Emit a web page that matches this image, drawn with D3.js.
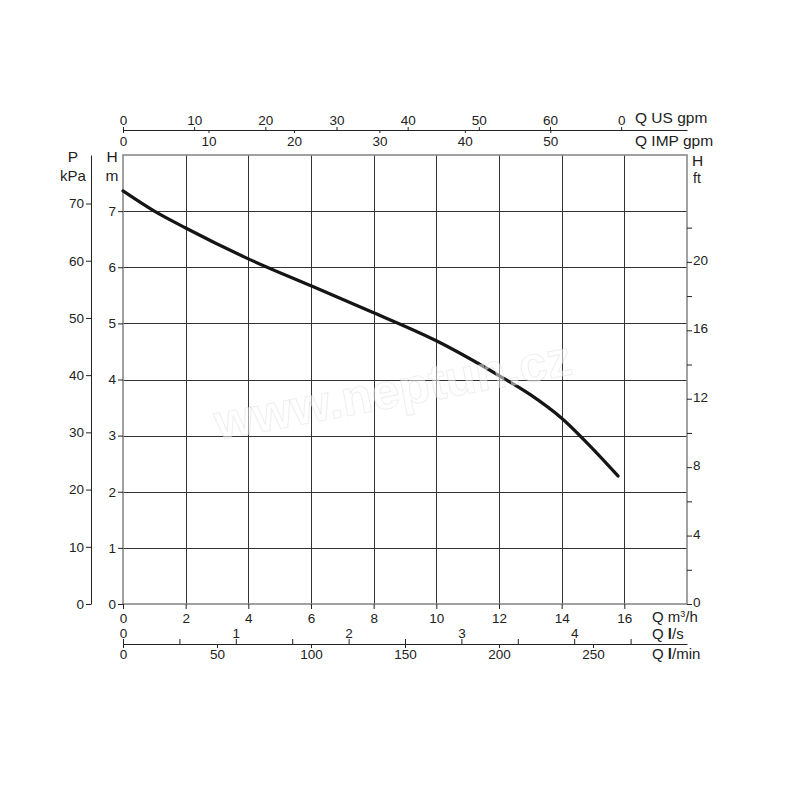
<!DOCTYPE html>
<html>
<head>
<meta charset="utf-8">
<script src="https://cdn.jsdelivr.net/npm/d3@7"></script>
<style>
  body { margin: 0; background: #fff; }
  svg { display: block; font-family: "Liberation Sans", Arial, sans-serif; }
  .axis text { font-size: 13.5px; fill: #222; }
  .axis path, .axis line { stroke: #222; }
</style>
</head>
<body>
<svg id="chart" width="800" height="800"></svg>
<script>
// ---- data (pump curve: flow in m3/h, head in m) ----
const flowM3h = [0, 1, 2, 4, 6, 8, 10, 12, 13, 14, 15, 15.8];
const headM   = [7.36, 7.0, 6.70, 6.15, 5.67, 5.19, 4.69, 4.07, 3.73, 3.31, 2.76, 2.28];

// ---- tick values / labels ----
const m3hTicks    = [0, 2, 4, 6, 8, 10, 12, 14, 16];
const hmTicks     = [0, 1, 2, 3, 4, 5, 6, 7];
const kPaTicks    = [0, 10, 20, 30, 40, 50, 60, 70];
const ftTicks     = [0, 2, 4, 6, 8, 10, 12, 14, 16, 18, 20, 22];
const ftLabelled  = [0, 4, 8, 12, 16, 20];
const usGpmTicks  = [0, 10, 20, 30, 40, 50, 60, 70];
const usGpmLabels = ["0", "10", "20", "30", "40", "50", "60", "0"];
const impGpmTicks = [0, 10, 20, 30, 40, 50];
const lsTicks     = [0, 0.5, 1, 1.5, 2, 2.5, 3, 3.5, 4, 4.5];
const lsLabelled  = [0, 1, 2, 3, 4];
const lminTicks   = [0, 50, 100, 150, 200, 250];

// unit conversions relative to m3/h and m
const US_GPM_PER_M3H = 4.4029;
const IMP_GPM_PER_M3H = 3.6662;
const KPA_PER_M = 9.81;
const FT_PER_M = 1 / 0.3048;

const svg = d3.select("#chart");
const L = 123, R = 687, T = 155, B = 604;
const xMax = 18, yMax = 8;

const x = d3.scaleLinear().domain([0, xMax]).range([L, R]);
const y = d3.scaleLinear().domain([0, yMax]).range([B, T]);

// ---- grid ----
const grid = svg.append("g");
grid.selectAll("line.v").data(m3hTicks.filter(d => d > 0))
  .join("line")
  .attr("x1", d => Math.round(x(d)) + 0.5).attr("x2", d => Math.round(x(d)) + 0.5)
  .attr("y1", T).attr("y2", B)
  .attr("stroke", "#333").attr("stroke-width", 1);
grid.selectAll("line.h").data(hmTicks.filter(d => d > 0))
  .join("line")
  .attr("x1", L).attr("x2", R)
  .attr("y1", d => Math.round(y(d)) + 0.5).attr("y2", d => Math.round(y(d)) + 0.5)
  .attr("stroke", "#333").attr("stroke-width", 1);

// ---- plot border ----
svg.append("rect")
  .attr("x", L).attr("y", T).attr("width", R - L).attr("height", B - T)
  .attr("fill", "none").attr("stroke", "#8a8a8a").attr("stroke-width", 1.6);

// ---- curve ----
const pts = flowM3h.map((q, i) => [q, headM[i]]);
svg.append("path")
  .datum(pts)
  .attr("fill", "none")
  .attr("stroke", "#151515")
  .attr("stroke-width", 3.2)
  .attr("stroke-linecap", "round")
  .attr("d", d3.line().x(d => x(d[0])).y(d => y(d[1])).curve(d3.curveMonotoneX));

// ---- watermark ----
svg.append("text")
  .attr("transform", "translate(396,407) rotate(-10.5)")
  .attr("text-anchor", "middle")
  .attr("font-size", 50).attr("font-weight", "bold")
  .attr("fill", "#fff").attr("fill-opacity", 0.5)
  .attr("stroke", "#cfcfcf").attr("stroke-opacity", 0.35).attr("stroke-width", 1)
  .text("www.neptun.cz");

function styleAxis(g) {
  g.attr("class", "axis");
  g.selectAll("path, line").attr("stroke", "#222");
  return g;
}

// ---- left H (m) axis ----
svg.append("g").attr("transform", `translate(${L},0)`)
  .call(d3.axisLeft(y).tickValues(hmTicks).tickFormat(d3.format("d")).tickSize(5).tickPadding(2).tickSizeOuter(0))
  .call(styleAxis)
  .call(g => g.select(".domain").remove());

// ---- P (kPa) axis ----
const yP = d3.scaleLinear().domain([0, yMax * KPA_PER_M]).range([B, T]);
svg.append("g").attr("transform", "translate(91,0)")
  .call(d3.axisLeft(yP).tickValues(kPaTicks).tickFormat(d3.format("d")).tickSize(5).tickPadding(2).tickSizeOuter(0))
  .call(styleAxis);

// ---- right H (ft) axis ----
const yF = d3.scaleLinear().domain([0, yMax * FT_PER_M]).range([B, T]);
svg.append("g").attr("transform", `translate(${R},0)`)
  .call(d3.axisRight(yF).tickValues(ftTicks)
    .tickFormat(d => ftLabelled.includes(d) ? d : "")
    .tickSize(5).tickPadding(1).tickSizeOuter(0))
  .call(styleAxis)
  .call(g => g.select(".domain").remove())
  .call(g => g.selectAll(".tick text").attr("dy", "0.2em"));

// ---- bottom m3/h axis ----
svg.append("g").attr("transform", `translate(0,${B})`)
  .call(d3.axisBottom(x).tickValues(m3hTicks).tickFormat(d3.format("d")).tickSize(5).tickPadding(4).tickSizeOuter(0))
  .call(styleAxis)
  .call(g => g.select(".domain").remove());

// ---- l/s (top of line) and l/min (below line) axes ----
const xLs = d3.scaleLinear().domain([0, xMax / 3.6]).range([L, R]);
const xLmin = d3.scaleLinear().domain([0, xMax / 0.06]).range([L, R]);
svg.append("g").attr("transform", "translate(0,644)")
  .call(d3.axisTop(xLs).tickValues(lsTicks)
    .tickFormat(d => lsLabelled.includes(d) ? d : "")
    .tickSize(5).tickPadding(1).tickSizeOuter(0))
  .call(styleAxis);
svg.append("g").attr("transform", "translate(0,644)")
  .call(d3.axisBottom(xLmin).tickValues(lminTicks).tickFormat(d3.format("d")).tickSize(4).tickPadding(1).tickSizeOuter(0))
  .call(styleAxis)
  .call(g => g.select(".domain").remove());

// ---- top US gpm (above) and IMP gpm (below) axes ----
const xUs = d3.scaleLinear().domain([0, xMax * US_GPM_PER_M3H]).range([L, R]);
const xImp = d3.scaleLinear().domain([0, xMax * IMP_GPM_PER_M3H]).range([L, R]);
svg.append("g").attr("transform", "translate(0,130)")
  .call(d3.axisTop(xUs).tickValues(usGpmTicks)
    .tickFormat((d, i) => usGpmLabels[i])
    .tickSize(3).tickPadding(2).tickSizeOuter(0))
  .call(styleAxis);
svg.append("g").attr("transform", "translate(0,130)")
  .call(d3.axisBottom(xImp).tickValues(impGpmTicks).tickFormat(d3.format("d")).tickSize(3).tickPadding(3).tickSizeOuter(0))
  .call(styleAxis)
  .call(g => g.select(".domain").remove());

// ---- axis titles ----
const titles = svg.append("g").attr("fill", "#222").attr("font-size", 15.5);
titles.append("text").attr("x", 635).attr("y", 123).text("Q US gpm");
titles.append("text").attr("x", 635).attr("y", 146).text("Q IMP gpm");
const t1 = titles.append("text").attr("x", 652).attr("y", 622).attr("font-size", 15);
t1.append("tspan").text("Q m");
t1.append("tspan").attr("font-size", 9).attr("dy", -5).text("3");
t1.append("tspan").attr("dy", 5).text("/h");
const t2 = titles.append("text").attr("x", 652).attr("y", 639).attr("font-size", 15);
t2.append("tspan").text("Q ");
t2.append("tspan").attr("font-weight", "bold").text("l");
t2.append("tspan").text("/s");
const t3 = titles.append("text").attr("x", 652).attr("y", 659).attr("font-size", 15);
t3.append("tspan").text("Q ");
t3.append("tspan").attr("font-weight", "bold").text("l");
t3.append("tspan").text("/min");

titles.append("text").attr("x", 73).attr("y", 162).attr("text-anchor", "middle").text("P");
titles.append("text").attr("x", 73).attr("y", 181).attr("text-anchor", "middle").attr("font-size", 15).text("kPa");
titles.append("text").attr("x", 112).attr("y", 162).attr("text-anchor", "middle").text("H");
titles.append("text").attr("x", 112).attr("y", 181).attr("text-anchor", "middle").text("m");
titles.append("text").attr("x", 692).attr("y", 166).text("H");
titles.append("text").attr("x", 693).attr("y", 183).attr("font-size", 14).text("ft");
</script>
</body>
</html>
